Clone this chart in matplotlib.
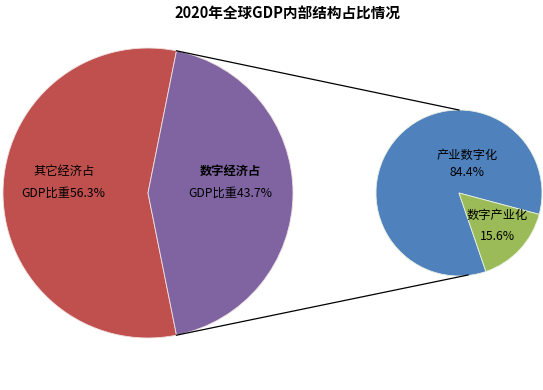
import matplotlib.pyplot as plt
import numpy as np

plt.rcParams['font.family'] = ['Noto Sans CJK SC', 'DejaVu Sans']

title = '2020年全球GDP内部结构占比情况'

# main pie
main_labels = ['其它经济占', '数字经济占']
main_values = [56.3, 43.7]
main_colors = ['#C0504D', '#8064A2']

# secondary pie (breakdown of digital economy)
sub_labels = ['产业数字化', '数字产业化']
sub_values = [84.4, 15.6]
sub_colors = ['#4F81BD', '#9BBB59']

W, H = 543, 390
fig = plt.figure(figsize=(W / 100, H / 100), dpi=100)
ax = fig.add_axes([0, 0, 1, 1])

# layout (pixel space, y up)
c1, r1 = (148, 197), 145
c2, r2 = (459, 197), 83

# split wedge centred on 0 deg
half = main_values[1] / sum(main_values) * 180
ax.pie(main_values, colors=main_colors, startangle=half, center=c1, radius=r1,
       wedgeprops=dict(edgecolor='#f0e0e0', linewidth=0.6), frame=True)

# green wedge centred around -43 deg
g_span = sub_values[1] / sum(sub_values) * 360
ax.pie(sub_values, colors=sub_colors, startangle=-43 + g_span / 2, center=c2, radius=r2,
       wedgeprops=dict(edgecolor='#e8f0e0', linewidth=0.6), frame=True)
ax.set_xlim(0, W)
ax.set_ylim(0, H)
ax.set_aspect('equal')
ax.axis('off')

# connector lines
a = np.deg2rad(half)
top1 = (c1[0] + r1 * np.cos(a), c1[1] + r1 * np.sin(a))
bot1 = (c1[0] + r1 * np.cos(a), c1[1] - r1 * np.sin(a))
ax.plot([top1[0], c2[0]], [top1[1], c2[1] + r2], color='black', lw=0.9)
ax.plot([bot1[0], c2[0] + 9], [bot1[1], c2[1] - r2 + 1], color='black', lw=0.9)

fs = 8.8
# main labels
ax.text(c1[0] - 84, c1[1] + 22, main_labels[0], ha='center', va='center', fontsize=fs)
ax.text(c1[0] - 85, c1[1], f'GDP比重{main_values[0]}%', ha='center', va='center', fontsize=fs)
ax.text(c1[0] + 82, c1[1] + 22, main_labels[1], ha='center', va='center', fontsize=fs,
        fontweight='bold')
ax.text(c1[0] + 82, c1[1], f'GDP比重{main_values[1]}%', ha='center', va='center', fontsize=fs)

# sub labels
ax.text(c2[0] + 8, c2[1] + 38, sub_labels[0], ha='center', va='center', fontsize=fs)
ax.text(c2[0] + 8, c2[1] + 21, f'{sub_values[0]}%', ha='center', va='center', fontsize=fs)
ax.text(c2[0] + 38, c2[1] - 22, sub_labels[1], ha='center', va='center', fontsize=fs)
ax.text(c2[0] + 38, c2[1] - 43, f'{sub_values[1]}%', ha='center', va='center', fontsize=fs)

ax.text(287, H - 14, title, ha='center', va='center', fontsize=10.5, fontweight='bold')

fig.savefig('out.png', dpi=100, facecolor='white')
